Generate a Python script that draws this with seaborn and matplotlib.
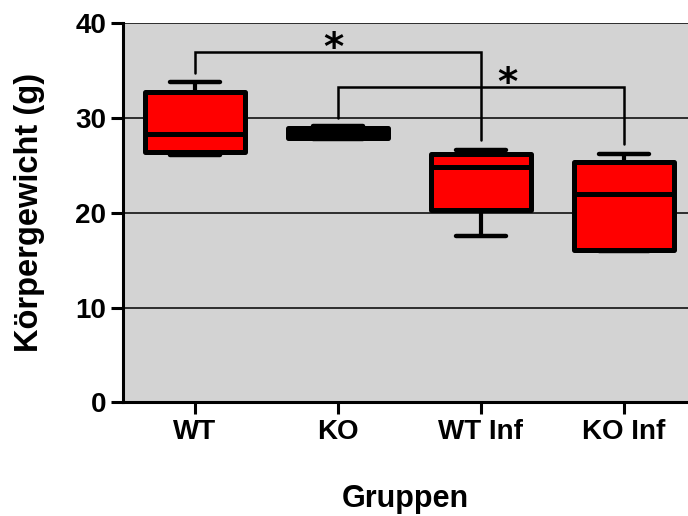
import numpy as np
import pandas as pd
import matplotlib
matplotlib.use("Agg")
import matplotlib.pyplot as plt
import seaborn as sns

# five-number summaries (min, q1, median, q3, max)
groups = ["WT", "KO", "WT Inf", "KO Inf"]
wt = [26.1, 26.4, 28.3, 32.7, 33.8]
ko = [27.7, 27.9, 28.4, 28.9, 29.1]
wt_inf = [17.5, 20.3, 24.8, 26.2, 26.6]
ko_inf = [16.0, 16.1, 22.0, 25.3, 26.2]

# significance brackets: (left group, right group), line height, star x
bracket_pairs = [("WT", "WT Inf"), ("KO", "KO Inf")]
bracket_heights = [36.9, 33.2]
star_x = [0.97, 2.19]

y_ticks = [0, 10, 20, 30, 40]

values = [wt, ko, wt_inf, ko_inf]
df = pd.DataFrame({
    "Gruppen": np.repeat(groups, 5),
    "Gewicht": np.concatenate(values),
})

sns.set_style("white")
plt.rcParams["font.family"] = ["Liberation Sans", "DejaVu Sans"]
plt.rcParams["font.weight"] = "bold"
for k in ["text.color", "axes.labelcolor", "xtick.color", "ytick.color"]:
    plt.rcParams[k] = "black"

fig = plt.figure(figsize=(6.88, 5.16), dpi=100)
ax = fig.add_axes([0.179, 0.22, 0.821, 0.736])
ax.set_facecolor("#d3d3d3")

sns.boxplot(data=df, x="Gruppen", y="Gewicht", order=groups, ax=ax,
            color="red", saturation=1, width=0.7, whis=(0, 100),
            linecolor="black", linewidth=3.6, showfliers=False,
            boxprops=dict(joinstyle="round"),
            whiskerprops=dict(linewidth=3.0),
            capprops=dict(linewidth=3.2, solid_capstyle="round"),
            medianprops=dict(linewidth=3.6, color="black"))

for y in y_ticks[1:]:
    ax.axhline(y, color="black", linewidth=1.1, zorder=0.5)

# brackets
tops = dict(zip(groups, [max(v) for v in values]))
for (g1, g2), h, sx in zip(bracket_pairs, bracket_heights, star_x):
    x1, x2 = groups.index(g1), groups.index(g2)
    ax.plot([x1, x1, x2, x2], [tops[g1] + 0.9, h, h, tops[g2] + 1.0],
            color="black", linewidth=1.8, solid_joinstyle="miter", zorder=3)
    ax.text(sx, h + 0.3, "*", ha="center", va="center", fontsize=28,
            fontweight="bold", family="DejaVu Sans")

ax.set_xlim(-0.5, 3.45)
ax.set_ylim(0, 40)
ax.set_yticks(y_ticks)
ax.tick_params(axis="both", length=8.5, width=2.2, labelsize=20, direction="out",
               color="black", left=True, bottom=True)
for lab in ax.get_xticklabels() + ax.get_yticklabels():
    lab.set_fontweight("bold")

for side in ["top", "right"]:
    ax.spines[side].set_visible(False)
for side in ["left", "bottom"]:
    ax.spines[side].set_linewidth(2.2)
    ax.spines[side].set_color("black")

ax.set_xlabel("Gruppen", fontsize=22, fontweight="bold", labelpad=28)
ax.set_ylabel("Körpergewicht (g)", fontsize=23.5, fontweight="bold", labelpad=22)

fig.savefig("out.png", dpi=100)
